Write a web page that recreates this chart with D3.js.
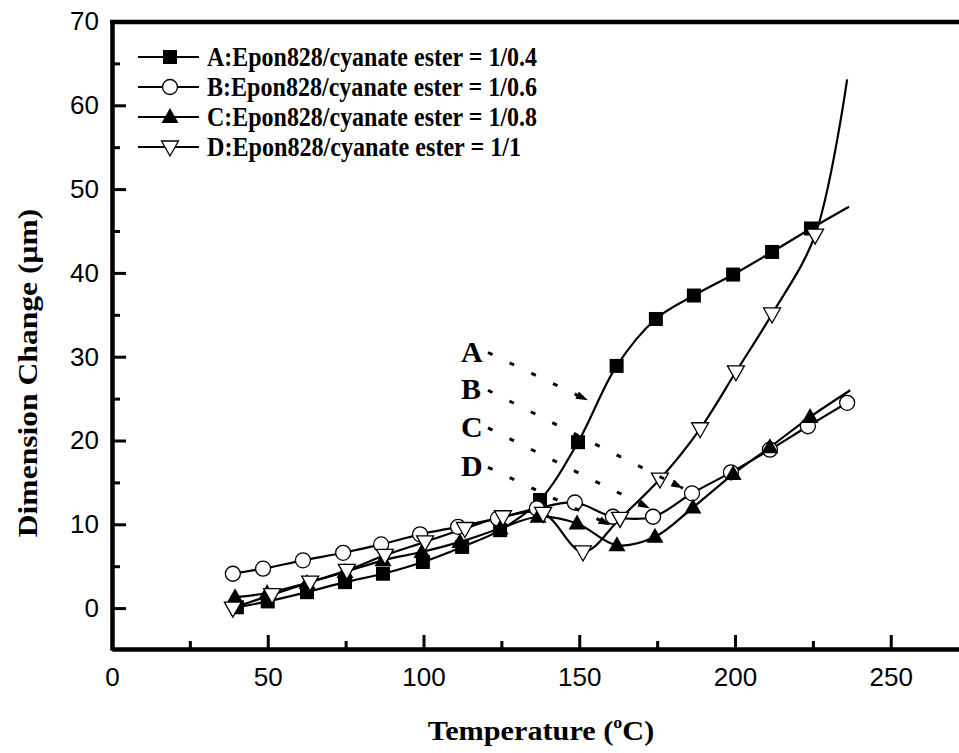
<!DOCTYPE html>
<html>
<head>
<meta charset="utf-8">
<script src="https://cdnjs.cloudflare.com/ajax/libs/d3/7.8.5/d3.min.js"></script>
<style>
body{margin:0;background:#fff;}
svg{display:block;}
.tick text{font-family:"Liberation Sans",Arial,sans-serif;font-size:26px;fill:#000;}
.tick line{stroke:#000;stroke-width:3;}
.domain{stroke:#000;stroke-width:4;}
.serif{font-family:"Liberation Serif","Times New Roman",serif;font-weight:bold;fill:#000;}
</style>
</head>
<body>
<script>
//series A, filled squares
var tempA = [40.1, 50, 62.6, 74.8, 87, 99.8, 112.4, 124.6, 137.4, 149.6, 162, 174.6, 186.8, 199.4, 211.9, 224.4];
var valA = [0.1, 0.8, 1.9, 3.1, 4.1, 5.5, 7.3, 9.3, 12.9, 19.8, 28.9, 34.5, 37.3, 39.8, 42.5, 45.3];
var endA = [236.6, 47.9];
//series B, open circles
var tempB = [38.8, 48.5, 61.3, 74.2, 86.4, 98.9, 111.1, 123.9, 136.4, 148.6, 160.8, 173.7, 186.2, 198.7, 211.2, 223.4, 236];
var valB = [4.1, 4.7, 5.7, 6.6, 7.6, 8.8, 9.7, 10.7, 11.9, 12.6, 10.9, 10.9, 13.7, 16.2, 18.9, 21.7, 24.5];
var endB = null;
//series C, filled triangles
var tempC = [39.5, 49.8, 62.6, 74.8, 87, 99.5, 111.7, 124.6, 136.8, 149.3, 162.1, 174.3, 186.5, 199.4, 211.2, 224.1];
var valC = [1.3, 1.8, 3.0, 4.3, 5.7, 6.7, 7.9, 9.5, 10.9, 10.1, 7.5, 8.5, 12.0, 16.0, 19.2, 22.8];
var endC = [237, 26.0];
//series D, open down triangles
var tempD = [38.8, 51.4, 63.6, 75.4, 87.6, 100.5, 113.3, 125.5, 138.4, 151.2, 163.1, 175.9, 188.8, 200.3, 211.9, 225.7];
var valD = [0, 1.6, 3.1, 4.5, 6.3, 7.9, 9.5, 10.9, 11.3, 6.7, 10.7, 15.4, 21.4, 28.2, 35.1, 44.5];
var endD = [236, 63.1];

var legendLabels = ["A:Epon828/cyanate ester = 1/0.4", "B:Epon828/cyanate ester = 1/0.6",
	"C:Epon828/cyanate ester = 1/0.8", "D:Epon828/cyanate ester = 1/1"];

//ticks
var xMajor = [0, 50, 100, 150, 200, 250];
var xMinor = [25, 75, 125, 175, 225, 275];
var yMajor = [0, 10, 20, 30, 40, 50, 60, 70];
var yMinor = [5, 15, 25, 35, 45, 55, 65];

//annotation letters and where their dotted arrows go (temperature, value)
var noteLetters = ["A", "B", "C", "D"];
var noteStart = [[120.7, 30.5], [120.7, 26.0], [120.7, 21.5], [120.7, 16.8]];
var noteEnd = [[152.8, 24.8], [183.3, 14.3], [172.7, 11.9], [160, 9.9]];

window.onload = drawChart();

function drawChart(){
	var width = 959,
		height = 753;

	var svg = d3.select("body")
		.append("svg")
		.attr("width", width)
		.attr("height", height);

	//scales, plot runs off the right edge like the original
	var x = d3.scaleLinear()
		.domain([0, 280])
		.range([112, 112 + 280 * 3.115]);
	var y = d3.scaleLinear()
		.domain([-5, 70])
		.range([650, 21.5]);

	//axes, ticks point inward
	svg.append("g")
		.attr("transform", "translate(0,649)")
		.call(d3.axisBottom(x).tickValues(xMinor).tickSizeInner(-8).tickSizeOuter(0).tickFormat(""));
	svg.append("g")
		.attr("transform", "translate(0,649)")
		.call(d3.axisBottom(x).tickValues(xMajor).tickSizeInner(-14).tickSizeOuter(0).tickPadding(19));
	svg.append("g")
		.attr("transform", "translate(112,0)")
		.call(d3.axisLeft(y).tickValues(yMinor).tickSizeInner(-8).tickSizeOuter(0).tickFormat(""));
	svg.append("g")
		.attr("transform", "translate(112,0)")
		.call(d3.axisLeft(y).tickValues(yMajor).tickSizeInner(-14).tickSizeOuter(0).tickPadding(13));
	//top frame
	svg.append("line")
		.attr("x1", 110).attr("x2", x(280))
		.attr("y1", 22).attr("y2", 22)
		.attr("stroke", "#000").attr("stroke-width", 4.5);

	//axis titles
	var xt = svg.append("text")
		.attr("class", "serif")
		.attr("text-anchor", "middle")
		.attr("font-size", 27)
		.attr("transform", "translate(541,740) scale(1.12,1)");
	xt.append("tspan").text("Temperature (");
	xt.append("tspan").attr("font-size", 16).attr("dy", -12).text("o");
	xt.append("tspan").attr("dy", 12).text("C)");

	svg.append("text")
		.attr("class", "serif")
		.attr("text-anchor", "middle")
		.attr("font-size", 27)
		.attr("transform", "translate(37,373) rotate(-90) scale(1.17,1)")
		.text("Dimension Change (\u03bcm)");

	var series = [
		{t: tempA, v: valA, end: endA, shape: "square", fill: "#000"},
		{t: tempB, v: valB, end: endB, shape: "circle", fill: "#fff"},
		{t: tempC, v: valC, end: endC, shape: "up", fill: "#000"},
		{t: tempD, v: valD, end: endD, shape: "down", fill: "#fff"}
	];

	var line = d3.line()
		.x(function(d){ return x(d[0]); })
		.y(function(d){ return y(d[1]); })
		.curve(d3.curveCatmullRom.alpha(0.5));

	//marker shapes
	function marker(g, shape, fill){
		if (shape == "square"){
			g.append("rect").attr("x", -7).attr("y", -7).attr("width", 14).attr("height", 14)
				.attr("fill", fill);
		} else if (shape == "circle"){
			g.append("circle").attr("r", 7.5).attr("fill", fill).attr("stroke", "#000").attr("stroke-width", 1.3);
		} else if (shape == "up"){
			g.append("path").attr("d", "M0,-9L8.5,6L-8.5,6Z").attr("fill", fill);
		} else {
			g.append("path").attr("d", "M0,9L8.5,-6L-8.5,-6Z").attr("fill", fill)
				.attr("stroke", "#000").attr("stroke-width", 1.3);
		}
	}

	//lines first, then markers on top
	series.forEach(function(s){
		var pts = s.t.map(function(t, i){ return [t, s.v[i]]; });
		if (s.end) pts.push(s.end);
		svg.append("path")
			.datum(pts)
			.attr("fill", "none")
			.attr("stroke", "#000")
			.attr("stroke-width", 2.2)
			.attr("d", line);
	});
	series.forEach(function(s){
		s.t.forEach(function(t, i){
			var g = svg.append("g").attr("transform", "translate(" + x(t) + "," + y(s.v[i]) + ")");
			marker(g, s.shape, s.fill);
		});
	});

	//legend
	var legend = svg.append("g");
	legendLabels.forEach(function(lab, i){
		var cy = 57 + i * 30;
		legend.append("line")
			.attr("x1", 138).attr("x2", 199)
			.attr("y1", cy).attr("y2", cy)
			.attr("stroke", "#000").attr("stroke-width", 1.8);
		var g = legend.append("g").attr("transform", "translate(170," + cy + ")");
		marker(g, series[i].shape, series[i].fill);
		legend.append("text")
			.attr("class", "serif")
			.attr("x", 207)
			.attr("y", cy + 9)
			.attr("font-size", 28)
			.attr("textLength", i == 3 ? 314 : 330)
			.attr("lengthAdjust", "spacingAndGlyphs")
			.text(lab);
	});

	//arrow heads
	svg.append("defs").append("marker")
		.attr("id", "head")
		.attr("viewBox", "0 0 12 8")
		.attr("refX", 12).attr("refY", 4)
		.attr("markerWidth", 12).attr("markerHeight", 8)
		.attr("markerUnits", "userSpaceOnUse")
		.attr("orient", "auto")
		.append("path").attr("d", "M0,0L12,4L0,8Z").attr("fill", "#000");

	noteLetters.forEach(function(l, i){
		var s = noteStart[i], e = noteEnd[i];
		svg.append("text")
			.attr("class", "serif")
			.attr("x", x(s[0]) - 27)
			.attr("y", y(s[1]) + 9)
			.attr("font-size", 30)
			.text(l);
		svg.append("line")
			.attr("x1", x(s[0])).attr("y1", y(s[1]))
			.attr("x2", x(e[0])).attr("y2", y(e[1]))
			.attr("stroke", "#000")
			.attr("stroke-width", 3)
			.attr("stroke-dasharray", "5,19")
			.attr("marker-end", "url(#head)");
	});
};
</script>
</body>
</html>
